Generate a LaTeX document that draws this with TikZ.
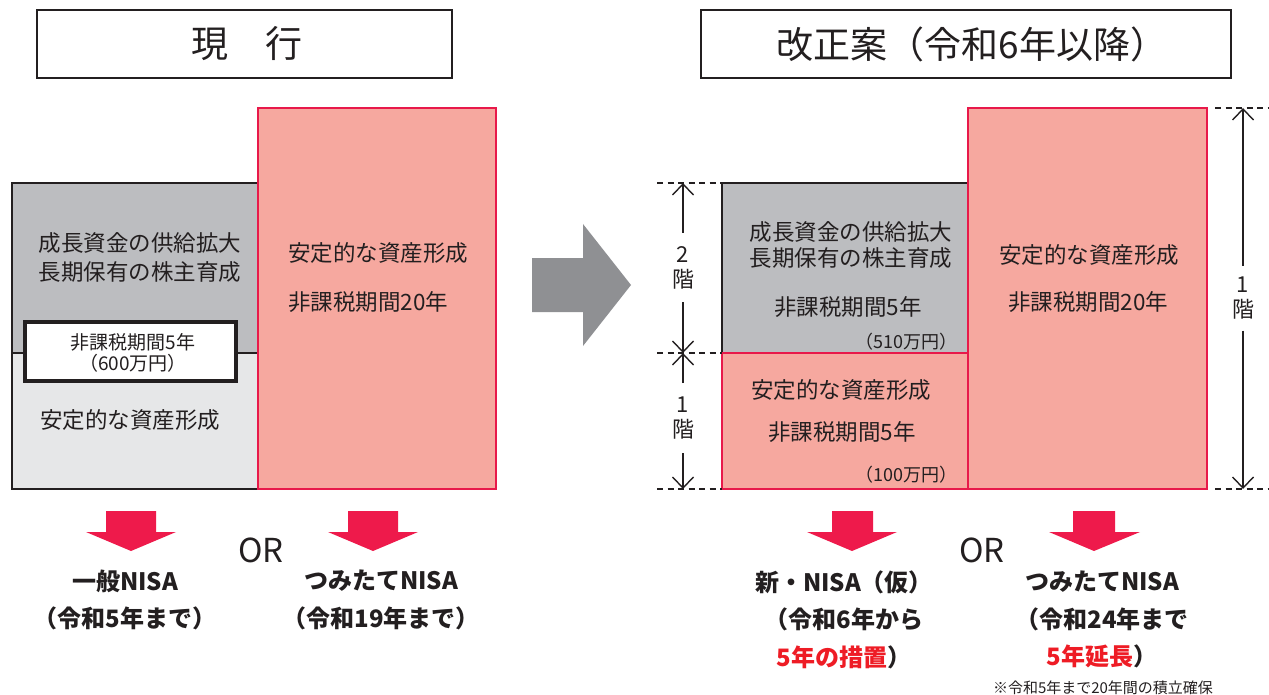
\documentclass[tikz,border=0pt]{standalone}
\usepackage{fontspec}
\setmainfont{Noto Sans CJK JP}
\usetikzlibrary{arrows.meta}
\definecolor{pinkfill}{HTML}{F6A89F}
\definecolor{redline}{HTML}{E8194A}
\definecolor{redarrow}{HTML}{EE1A4B}
\definecolor{grayup}{HTML}{BCBDC0}
\definecolor{graylow}{HTML}{E6E7E8}
\definecolor{arrowgray}{HTML}{8F9093}
\definecolor{redtext}{HTML}{EE1C25}
\definecolor{ink}{HTML}{231F20}
\begin{document}
\begin{tikzpicture}[x=1pt,y=-1pt,
  blk/.style={anchor=north west, inner sep=0pt, outer sep=0pt, line width=2.5pt},
  graybox/.style={blk, draw=ink, fill=grayup},
  lgraybox/.style={blk, draw=ink, fill=graylow},
  pinkbox/.style={blk, draw=redline, fill=pinkfill},
  titlebox/.style={blk, draw=ink, line width=2.5pt, fill=white},
  titletext/.style={text=ink, font=\fontsize{37}{44}\selectfont},
  bodytext/.style={text=ink, font=\fontsize{22.5}{29}\selectfont, align=center, inner sep=0pt},
  smalltext/.style={text=ink, font=\fontsize{18}{20}\selectfont, inner sep=0pt},
  boldtext/.style={text=ink, font=\bfseries\fontsize{24}{37.5}\selectfont, align=center, inner sep=0pt},
  dimlabel/.style={text=ink, font=\fontsize{22}{25}\selectfont, align=center, inner sep=0pt, outer sep=0pt},
  dimline/.style={draw=ink, line width=1.4pt, -{Straight Barb[length=11pt,width=21pt,line width=1.4pt]}},
  dashline/.style={draw=ink, line width=1.4pt, dash pattern=on 6pt off 4.5pt},
  redarr/.style={fill=redarrow},
  ortext/.style={text=ink, font=\fontsize{33}{36}\selectfont, inner sep=0pt}
]
\useasboundingbox (0,0) rectangle (1269,695);

% titles
\node[titlebox, minimum width=415pt, minimum height=68pt] (t1) at (37,10) {};
\node[titletext] (t1t) at (247,44) {現　行};
\node[titlebox, minimum width=530pt, minimum height=68pt] (t2) at (701,10) {};
\node[titletext] (t2t) at (972,44) {改正案（令和6年以降）};

% left current
\node[graybox, minimum width=246pt, minimum height=170pt] (lgU) at (12,183) {};
\node[lgraybox, minimum width=246pt, minimum height=136pt] (lgL) at (12,353) {};
\node[pinkbox, minimum width=238pt, minimum height=381pt] (lpk) at (258,108) {};
\node[blk, draw=ink, fill=white, line width=3.5pt, minimum width=211pt, minimum height=59pt] (wb) at (25,322) {};

\node[bodytext] (lgUt) at (140,257.5) {成長資金の供給拡大\\長期保有の株主育成};
\node[text=ink, font=\fontsize{19}{21}\selectfont, align=center, inner sep=0pt] (wbt) at (133,352.5) {非課税期間5年\\（600万円）};
\node[bodytext] (lgLt) at (130,420) {安定的な資産形成};
\node[bodytext, anchor=west] (lpkt1) at (288,253) {安定的な資産形成};
\node[bodytext, anchor=west] (lpkt2) at (288,302) {非課税期間20年};

% gray arrow
\fill[arrowgray] (532,258) -- (583,258) -- (583,224) -- (631,285) -- (583,346) -- (583,312) -- (532,312) -- cycle;

% right proposal
\node[graybox, minimum width=246pt, minimum height=170pt] (rgU) at (722,183) {};
\node[pinkbox, minimum width=246pt, minimum height=136pt] (rpL) at (722,353) {};
\node[pinkbox, minimum width=239pt, minimum height=381pt] (rpk) at (968,108) {};

\node[bodytext, font=\fontsize{22.5}{26.5}\selectfont] (rgUt) at (851,245) {成長資金の供給拡大\\長期保有の株主育成};
\node[bodytext] (rgUt2) at (848,307) {非課税期間5年};
\node[smalltext, anchor=east] (rgUt3) at (958,342) {（510万円）};
\node[bodytext] (rpLt1) at (841,390) {安定的な資産形成};
\node[bodytext] (rpLt2) at (842,432) {非課税期間5年};
\node[smalltext, anchor=east] (rpLt3) at (958,475) {（100万円）};
\node[bodytext] (rpkt1) at (1089,255) {安定的な資産形成};
\node[bodytext] (rpkt2) at (1088,302) {非課税期間20年};

% dimension lines left
\coordinate (dl1) at (657,183);
\coordinate (dl2) at (657,353);
\coordinate (dl3) at (657,489);
\draw[dashline] (dl1) -- (rgU.north west);
\draw[dashline] (dl2) -- (rpL.north west);
\draw[dashline] (dl3) -- (rpL.south west);
\coordinate (dT) at (683,183);
\coordinate (dM) at (683,353);
\coordinate (dB) at (683,489);
\node[dimlabel, minimum height=69pt] (lab2) at (683,267.5) {2\\階};
\node[dimlabel, minimum height=70pt] (lab1) at (683,418) {1\\階};
\draw[dimline] (lab2.north) -- (dT);
\draw[dimline] (lab2.south) -- (dM);
\draw[dimline] (lab1.north) -- (dM);
\draw[dimline] (lab1.south) -- (dB);

% dimension right
\coordinate (rd1a) at (1215,108);
\coordinate (rd1b) at (1269,108);
\coordinate (rd2a) at (1215,489);
\coordinate (rd2b) at (1269,489);
\draw[dashline] (rd1a) -- (rd1b);
\draw[dashline] (rd2a) -- (rd2b);
\coordinate (rT) at (1243,108);
\coordinate (rB) at (1243,489);
\node[dimlabel, minimum height=65pt] (labR) at (1243,298) {1\\階};
\draw[dimline] (labR.north) -- (rT);
\draw[dimline] (labR.south) -- (rB);

% red arrows
\fill[redarr] (106,511) -- (156,511) -- (156,532) -- (176,532) -- (131,551) -- (86,532) -- (106,532) -- cycle;
\fill[redarr] (348,511) -- (398,511) -- (398,532) -- (418,532) -- (373,551) -- (328,532) -- (348,532) -- cycle;
\fill[redarr] (832,511) -- (873,511) -- (873,532) -- (897,532) -- (852,551) -- (807,532) -- (832,532) -- cycle;
\fill[redarr] (1073,511) -- (1115,511) -- (1115,532) -- (1140,532) -- (1094,551) -- (1049,532) -- (1073,532) -- cycle;

\node[ortext] (or1) at (261,550) {OR};
\node[ortext] (or2) at (982,550) {OR};

% bottom labels
\node[boldtext] (b1) at (125,600) {一般NISA\\（令和5年まで）};
\node[boldtext] (b2) at (381,600) {つみたてNISA\\（令和19年まで）};
\node[boldtext] (b3) at (844,619.5) {新・NISA（仮）\\（令和6年から\\\textcolor{redtext}{5年の措置}）};
\node[boldtext] (b4) at (1102,619.5) {つみたてNISA\\（令和24年まで\\\textcolor{redtext}{5年延長}）};
\node[text=ink, font=\fontsize{15}{17}\selectfont, inner sep=0pt] (note) at (1103,688) {※令和5年まで20年間の積立確保};
\end{tikzpicture}
\end{document}
